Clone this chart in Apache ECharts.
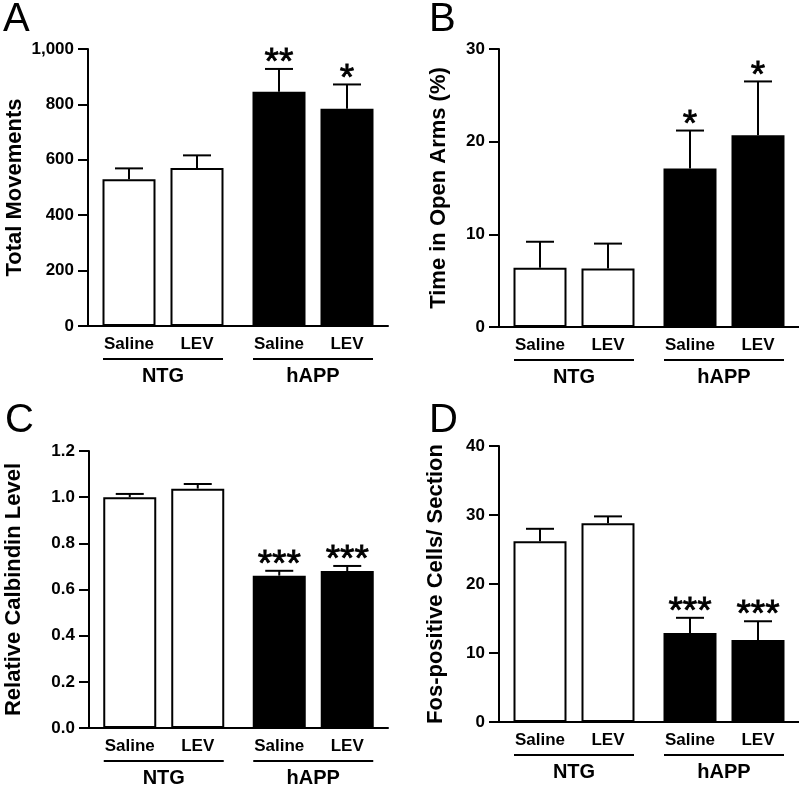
<!DOCTYPE html>
<html><head><meta charset="utf-8">
<script src="https://cdn.jsdelivr.net/npm/echarts@6/dist/echarts.min.js"></script>
<style>html,body{margin:0;padding:0;background:#fff}#c{width:799px;height:792px}</style>
</head><body><div id="c"></div>
<script>
// ---- data ----
const groups = ['NTG', 'hAPP'];
const treatments = ['Saline', 'LEV'];

// Panel A: Total Movements
const aSalineMean = [530, 846];
const aSalineSem  = [39, 82];
const aLevMean    = [570, 784];
const aLevSem     = [46, 88];
const aSalineStars = ['', '**'];
const aLevStars    = ['', '*'];
const aTicks = ['0', '200', '400', '600', '800', '1,000'];

// Panel B: Time in Open Arms (%)
const bSalineMean = [6.4, 17.1];
const bSalineSem  = [2.8, 4.1];
const bLevMean    = [6.3, 20.7];
const bLevSem     = [2.7, 5.8];
const bSalineStars = ['', '*'];
const bLevStars    = ['', '*'];
const bTicks = ['0', '10', '20', '30'];

// Panel C: Relative Calbindin Level
const cSalineMean = [1.00, 0.66];
const cSalineSem  = [0.014, 0.021];
const cLevMean    = [1.037, 0.68];
const cLevSem     = [0.02, 0.022];
const cSalineStars = ['', '***'];
const cLevStars    = ['', '***'];
const cTicks = ['0.0', '0.2', '0.4', '0.6', '0.8', '1.0', '1.2'];

// Panel D: Fos-positive Cells/ Section
const dSalineMean = [26.2, 12.9];
const dSalineSem  = [1.8, 2.2];
const dLevMean    = [28.8, 11.9];
const dLevSem     = [1.0, 2.7];
const dSalineStars = ['', '***'];
const dLevStars    = ['', '***'];
const dTicks = ['0', '10', '20', '30', '40'];

// ---- styles ----
const FONT = '"Liberation Sans", Arial, Helvetica, sans-serif';
const BAR_W = 53;
const GAP_PX = 15;
const CAP_HALF = 14;
const groupStyles = [
  { color: '#ffffff', borderColor: '#000', borderWidth: 2 },
  { color: '#000000', borderColor: '#000', borderWidth: 2 }
];

const panels = [
  { letter: 'A', name: 'Total Movements', grid: { left: 88, top: 49, width: 300, height: 277 },
    max: 1000, interval: 200, ticks: aTicks, nameGap: 62,
    sal: [aSalineMean, aSalineSem, aSalineStars], lev: [aLevMean, aLevSem, aLevStars],
    title: { left: -2, top: -5 } },
  { letter: 'B', name: 'Time in Open Arms (%)', grid: { left: 499, top: 49, width: 300, height: 278 },
    max: 30, interval: 10, ticks: bTicks, nameGap: 49,
    sal: [bSalineMean, bSalineSem, bSalineStars], lev: [bLevMean, bLevSem, bLevStars],
    title: { left: 424, top: -5 } },
  { letter: 'C', name: 'Relative Calbindin Level', grid: { left: 89, top: 451, width: 299, height: 277 },
    max: 1.2, interval: 0.2, ticks: cTicks, nameGap: 64,
    sal: [cSalineMean, cSalineSem, cSalineStars], lev: [cLevMean, cLevSem, cLevStars],
    title: { left: 0, top: 396 } },
  { letter: 'D', name: 'Fos-positive Cells/ Section', grid: { left: 499, top: 446, width: 300, height: 276 },
    max: 40, interval: 10, ticks: dTicks, nameGap: 52,
    sal: [dSalineMean, dSalineSem, dSalineStars], lev: [dLevMean, dLevSem, dLevStars],
    title: { left: 424, top: 396 } }
];

const option = { animation: false, backgroundColor: '#fff', title: [], grid: [], xAxis: [], yAxis: [], series: [] };

function errSeries(idx, means, sems, stars, sign) {
  return {
    type: 'custom', xAxisIndex: idx, yAxisIndex: idx, z: 5,
    data: means.map((m, i) => [i, m, sems[i]]),
    renderItem: function (params, api) {
      const ci = api.value(0), m = api.value(1), s = api.value(2);
      const off = sign * (BAR_W + GAP_PX) / 2;
      const p0 = api.coord([ci, m]);
      const p1 = api.coord([ci, m + s]);
      const x = p0[0] + off;
      const children = [
        { type: 'line', shape: { x1: x, y1: p0[1], x2: x, y2: p1[1] }, style: { stroke: '#000', lineWidth: 2 } },
        { type: 'line', shape: { x1: x - CAP_HALF, y1: p1[1], x2: x + CAP_HALF, y2: p1[1] }, style: { stroke: '#000', lineWidth: 2 } }
      ];
      const st = stars[params.dataIndex];
      if (st) {
        children.push({ type: 'text', x: x, y: p1[1] - 5,
          style: { text: st, fill: '#000', stroke: '#000', lineWidth: 0.8,
            font: '37px ' + FONT, align: 'center', verticalAlign: 'middle' } });
      }
      return { type: 'group', children: children };
    }
  };
}

panels.forEach((p, idx) => {
  option.title.push({ text: p.letter, left: p.title.left, top: p.title.top,
    textStyle: { fontFamily: FONT, fontSize: 40, fontWeight: 'normal', color: '#000' } });
  option.grid.push(Object.assign({ containLabel: false }, p.grid));
  option.xAxis.push({
    type: 'category', gridIndex: idx, data: groups,
    axisLine: { lineStyle: { color: '#000', width: 2 } },
    axisTick: { show: false },
    axisLabel: {
      margin: 32, interval: 0,
      formatter: v => '{u|}\n{n|' + v + '}',
      rich: {
        u: { width: 120, height: 2, lineHeight: 2, backgroundColor: '#000' },
        n: { fontFamily: FONT, fontSize: 20, fontWeight: 'bold', color: '#000', lineHeight: 30, padding: [2, 0, 0, 0] }
      }
    }
  });
  option.yAxis.push({
    type: 'value', gridIndex: idx, min: 0, max: p.max, interval: p.interval,
    name: p.name, nameLocation: 'middle', nameGap: p.nameGap,
    nameTextStyle: { fontFamily: FONT, fontSize: 22, fontWeight: 'bold', color: '#000' },
    splitLine: { show: false },
    axisLine: { show: true, lineStyle: { color: '#000', width: 2 } },
    axisTick: { show: true, length: 10, lineStyle: { color: '#000', width: 2 } },
    axisLabel: { margin: 14, fontFamily: FONT, fontSize: 17, fontWeight: 'bold', color: '#000',
      formatter: (v, i) => p.ticks[i] }
  });
  [[p.sal, 0], [p.lev, 1]].forEach(([d, t]) => {
    option.series.push({
      type: 'bar', name: treatments[t], xAxisIndex: idx, yAxisIndex: idx,
      barWidth: BAR_W, barGap: (GAP_PX / BAR_W * 100).toFixed(1) + '%',
      data: d[0].map((v, i) => ({ value: v, itemStyle: groupStyles[i] })),
      label: { show: true, position: 'bottom', distance: 10, formatter: treatments[t],
        fontFamily: FONT, fontSize: 17, fontWeight: 'bold', color: '#000' }
    });
  });
  option.series.push(errSeries(idx, p.sal[0], p.sal[1], p.sal[2], -1));
  option.series.push(errSeries(idx, p.lev[0], p.lev[1], p.lev[2], 1));
});

const chart = echarts.init(document.getElementById('c'), null, { renderer: 'canvas' });
chart.setOption(option);
</script>
</body></html>
